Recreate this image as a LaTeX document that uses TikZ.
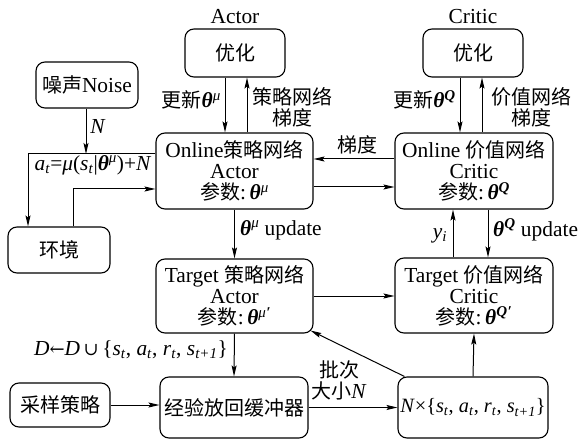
\documentclass[tikz,border=0pt]{standalone}
\usepackage{fontspec}
\setmainfont{Liberation Serif}[Scale=1.07]
\newfontfamily\cjk{Noto Sans CJK SC}
\newfontfamily\dv{DejaVu Serif}[Scale=0.9]
\usetikzlibrary{arrows.meta}
\newcommand{\zh}[1]{{\cjk #1}}
\newcommand{\vi}[1]{\textit{#1}}
\newcommand{\sub}[1]{\textsubscript{\textit{#1}}}
\newcommand{\tm}{\textbf{\textit{θ}}\textsuperscript{\textit{μ}}}
\newcommand{\tq}{\textbf{\textit{θ}}\textsuperscript{\textbf{\textit{Q}}}}
\begin{document}
\begin{tikzpicture}[x=1pt,y=-1pt,
  font=\fontsize{20}{21}\selectfont,
  box/.style={draw, rounded corners=9pt, line width=1.1pt, align=center, inner sep=0pt},
  arr/.style={-{Stealth[length=11pt,width=5pt,inset=2pt]}, line width=1pt},
  lbl/.style={inner sep=1pt, align=center}]
\useasboundingbox (0,0) rectangle (579,441);
% boxes
\node[lbl] (alabel) at (235,17) {Actor};
\node[lbl] (clabel) at (473,17) {Critic};
\node[box, minimum width=100pt, minimum height=48pt] (aopt) at (235,53) {\zh{优化}};
\node[box, minimum width=100pt, minimum height=48pt] (copt) at (473,53) {\zh{优化}};
\node[box, minimum width=102pt, minimum height=46pt] (noise) at (87,85) {\zh{噪声}Noise};
\node[box, minimum width=157pt, minimum height=76pt] (oa) at (234.5,171) {Online\zh{策略网络}\\Actor\\\zh{参数}:\,\tm};
\node[box, minimum width=158pt, minimum height=76pt] (oc) at (474,171) {Online \zh{价值网络}\\Critic\\\zh{参数}:\,\tq};
\node[box, minimum width=102pt, minimum height=46pt] (env) at (59,250) {\zh{环境}};
\node[box, minimum width=157pt, minimum height=74pt] (ta) at (234.5,296) {Target \zh{策略网络}\\Actor\\\zh{参数}:\,\tm\textbf{\textit{\textsuperscript{′}}}};
\node[box, minimum width=158pt, minimum height=75pt] (tc) at (474,295.5) {Target \zh{价值网络}\\Critic\\\zh{参数}:\,\tq\textbf{\textit{\textsuperscript{′}}}};
\node[box, minimum width=148pt, minimum height=61pt] (buf) at (234,407.5) {\zh{经验放回缓冲器}};
\node[box, minimum width=100pt, minimum height=44pt] (samp) at (60,405) {\zh{采样策略}};
\node[box, minimum width=150pt, minimum height=61pt, font=\fontsize{19}{21}\selectfont] (nb) at (473,407.5) {\vi{N}×\{\vi{s}\sub{t}, \vi{a}\sub{t}, \vi{r}\sub{t}, \vi{s}\sub{t+1}\}};
% helper coordinates
\coordinate (j1) at (86,154);
\coordinate (c1) at (28,154);
\coordinate (c2) at (73,189);
% connectors
\draw[arr] ([xshift=-10pt]aopt.south) -- ([xshift=-10pt]aopt.south |- oa.north);
\draw[arr] ([xshift=12pt]aopt.south |- oa.north) -- ([xshift=12pt]aopt.south);
\draw[arr] ([xshift=-13pt]copt.south) -- ([xshift=-13pt]copt.south |- oc.north);
\draw[arr] ([xshift=9pt]copt.south |- oc.north) -- ([xshift=9pt]copt.south);
\draw[arr] (noise.south -| j1) -- (j1);
\draw[arr] (oa.west |- c1) -- (c1) -- (c1 |- env.north);
\draw[arr] (c2 |- env.north) -- (c2) -- (oa.west |- c2);
\draw[arr] ([yshift=12pt]oc.west) -- ([yshift=12pt]oa.east);
\draw[arr] ([yshift=-16pt]oa.east) -- ([yshift=-16pt]oc.west);
\draw[arr] (oa.south) -- (ta.north);
\draw[arr] ([xshift=-21pt]tc.north) -- ([xshift=-21pt]oc.south);
\draw[arr] ([xshift=14pt]oc.south) -- ([xshift=14pt]tc.north);
\draw[arr] (ta.east) -- (ta.east -| tc.west);
\draw[arr] (ta.south) -- (buf.north);
\draw[arr] (samp.east) -- (samp.east -| buf.west);
\draw[arr] (buf.east) -- (nb.west);
\draw[arr] (nb.north) -- (tc.south);
\draw[arr] ([xshift=7pt]nb.north west) -- ([xshift=-3pt,yshift=3pt]ta.south east);
% labels
\node[lbl, anchor=east] (l1) at (222,100) {\zh{更新}\tm};
\node[lbl] (l2) at (292,107) {\zh{策略网络}\\\zh{梯度}};
\node[lbl, anchor=east] (l3) at (457,100) {\zh{更新}\tq};
\node[lbl] (l4) at (531,107) {\zh{价值网络}\\\zh{梯度}};
\node[lbl] (lN) at (98,126) {\vi{N}};
\node[lbl] (la) at (93,165) {\vi{a}\sub{t}=\vi{μ}(\vi{s}\sub{t}|\tm)+\vi{N}};
\node[lbl] (lg) at (357,145) {\zh{梯度}};
\node[lbl, anchor=west] (lu1) at (239,230) {\tm{} update};
\node[lbl] (ly) at (440,236) {\vi{y}\sub{i}};
\node[lbl, anchor=west] (lu2) at (492,230) {\tq{} update};
\node[lbl, anchor=east] (ld) at (229,350) {\vi{D}{\dv ←}\vi{D}\,{\dv ∪}\,\{\vi{s}\sub{t}, \vi{a}\sub{t}, \vi{r}\sub{t}, \vi{s}\sub{t+1}\}};
\node[lbl] (lb) at (339,380) {\zh{批次}\\\zh{大小}\vi{N}};
\end{tikzpicture}
\end{document}
